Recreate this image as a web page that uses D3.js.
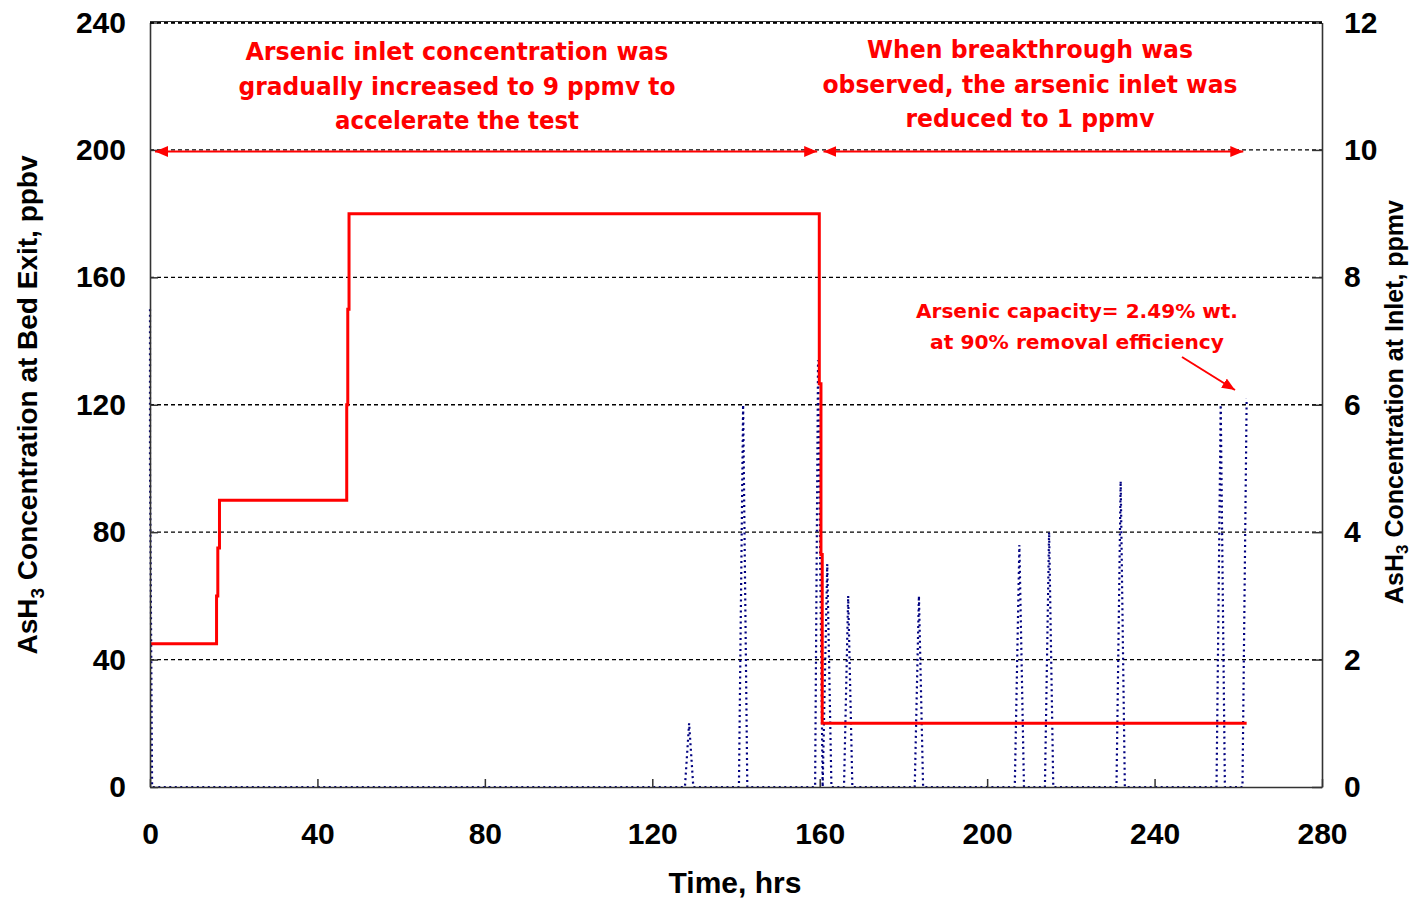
<!DOCTYPE html>
<html>
<head>
<meta charset="utf-8">
<script src="https://cdn.jsdelivr.net/npm/d3@7/dist/d3.min.js"></script>
<style>
  html, body { margin: 0; padding: 0; background: #fff; }
  svg { display: block; font-family: "Liberation Sans", Arial, sans-serif; }
  .tick text { font-weight: bold; font-size: 30px; fill: #000; }
  .red-note { fill: #ff0000; font-weight: bold; font-family: "DejaVu Sans", Verdana, sans-serif; }
</style>
</head>
<body>
<svg id="chart" width="1418" height="898"></svg>
<script>
// Inlet AsH3 concentration (ppmv), step changes over time
const inletTime = [0, 15.9, 16.2, 16.6, 47.0, 47.25, 47.55, 159.9, 160.3, 160.6, 262];
const inletPpmv = [2.25, 3, 3.75, 4.5, 6, 7.5, 9, 6.33, 3.65, 1, 1];

// Bed exit AsH3 concentration (ppbv), dotted spikes
const exitTime = [0, 0, 0.5, 127.8, 128.8, 129.8, 140.7, 141.7, 142.7, 158.9, 159.6, 160.7,
                  161.8, 162.8, 165.8, 166.8, 167.8, 182.7, 183.7, 184.7, 206.6, 207.7, 208.8,
                  213.8, 214.8, 215.8, 230.9, 231.9, 232.9, 254.8, 255.8, 256.8, 261.0, 262.0];
const exitPpbv = [150, 101, 0, 0, 20, 0, 0, 120, 0, 0, 134, 0,
                  70, 0, 0, 60, 0, 0, 60, 0, 0, 76, 0,
                  0, 80, 0, 0, 96, 0, 0, 120, 0, 0, 122];

const xTicks = [0, 40, 80, 120, 160, 200, 240, 280];
const leftTicks = [0, 40, 80, 120, 160, 200, 240];
const rightTicks = [0, 2, 4, 6, 8, 10, 12];

const leftNote = ["Arsenic inlet concentration was", "gradually increased to 9 ppmv to", "accelerate the test"];
const rightNote = ["When breakthrough was", "observed, the arsenic inlet was", "reduced to 1 ppmv"];
const capNote = ["Arsenic capacity= 2.49% wt.", "at 90% removal efficiency"];

const svg = d3.select("#chart");
const margin = { left: 150, right: 1322, top: 22.5, bottom: 787 };

const x = d3.scaleLinear().domain([0, 280]).range([margin.left, margin.right]);
const yL = d3.scaleLinear().domain([0, 240]).range([margin.bottom, margin.top]);
const yR = d3.scaleLinear().domain([0, 12]).range([margin.bottom, margin.top]);

// arrowhead markers
const defs = svg.append("defs");
defs.append("marker")
    .attr("id", "arrow")
    .attr("viewBox", "0 -5 12 10")
    .attr("refX", 12).attr("refY", 0)
    .attr("orient", "auto-start-reverse")
    .attr("markerUnits", "userSpaceOnUse")
    .attr("markerWidth", 13).attr("markerHeight", 11)
    .append("path")
    .attr("d", "M0,-5 L12,0 L0,5 Z")
    .attr("fill", "#ff0000");

// gridlines (dashed)
svg.append("g")
    .selectAll("line")
    .data(leftTicks.filter(d => d > 0))
    .enter().append("line")
    .attr("x1", margin.left).attr("x2", margin.right)
    .attr("y1", d => yL(d)).attr("y2", d => yL(d))
    .attr("stroke", "#000")
    .attr("stroke-width", 1.3)
    .attr("stroke-dasharray", "4,3");

// exit concentration, dotted navy
const exitLine = d3.line()
    .x((d, i) => x(exitTime[i]))
    .y(d => yL(d));
svg.append("path")
    .datum(exitPpbv)
    .attr("d", exitLine)
    .attr("fill", "none")
    .attr("stroke", "#000080")
    .attr("stroke-width", 2.2)
    .attr("stroke-dasharray", "2,3.5");

// inlet concentration, red step line
const inletLine = d3.line()
    .x((d, i) => x(inletTime[i]))
    .y(d => yR(d))
    .curve(d3.curveStepAfter);
svg.append("path")
    .datum(inletPpmv)
    .attr("d", inletLine)
    .attr("fill", "none")
    .attr("stroke", "#ff0000")
    .attr("stroke-width", 3);

// axes
const xAxis = svg.append("g")
    .attr("transform", `translate(0,${margin.bottom})`)
    .call(d3.axisBottom(x).tickValues(xTicks).tickSizeInner(-8).tickSizeOuter(0).tickPadding(42));
const lAxis = svg.append("g")
    .attr("transform", `translate(${margin.left},0)`)
    .call(d3.axisLeft(yL).tickValues(leftTicks).tickSizeInner(-8).tickSizeOuter(0).tickPadding(24));
const rAxis = svg.append("g")
    .attr("transform", `translate(${margin.right},0)`)
    .call(d3.axisRight(yR).tickValues(rightTicks).tickSizeInner(-10).tickSizeOuter(0).tickPadding(22));
[xAxis, lAxis, rAxis].forEach(a => {
    a.select(".domain").attr("stroke", "#333").attr("stroke-width", 1.6);
    a.selectAll(".tick line").attr("stroke", "#333").attr("stroke-width", 1.5);
});
xAxis.selectAll(".tick text").attr("dy", "0.5em");
// top border
svg.append("line")
    .attr("x1", margin.left).attr("x2", margin.right)
    .attr("y1", margin.top - 1).attr("y2", margin.top - 1)
    .attr("stroke", "#333").attr("stroke-width", 1);
svg.append("line")
    .attr("x1", margin.left).attr("x2", margin.right)
    .attr("y1", margin.top + 0.5).attr("y2", margin.top + 0.5)
    .attr("stroke", "#000").attr("stroke-width", 1.3)
    .attr("stroke-dasharray", "4,3");

// axis titles
svg.append("text")
    .attr("x", 735).attr("y", 893)
    .attr("text-anchor", "middle")
    .attr("font-weight", "bold").attr("font-size", 30)
    .text("Time, hrs");

const ylab = svg.append("text")
    .attr("transform", "translate(37,405) rotate(-90)")
    .attr("text-anchor", "middle")
    .attr("font-weight", "bold").attr("font-size", 28);
ylab.append("tspan").text("AsH");
ylab.append("tspan").attr("font-size", 19).attr("dy", 7).text("3");
ylab.append("tspan").attr("dy", -7).text(" Concentration at Bed Exit, ppbv");

const rlab = svg.append("text")
    .attr("transform", "translate(1403,402) rotate(-90)")
    .attr("text-anchor", "middle")
    .attr("font-weight", "bold").attr("font-size", 25);
rlab.append("tspan").text("AsH");
rlab.append("tspan").attr("font-size", 17).attr("dy", 5).text("3");
rlab.append("tspan").attr("dy", -5).text(" Concentration at Inlet, ppmv");

// red notes
function note(lines, cx, y0, step, size, widths) {
    lines.forEach((t, i) => {
        svg.append("text")
            .attr("class", "red-note")
            .attr("x", cx).attr("y", y0 + i * step)
            .attr("text-anchor", "middle")
            .attr("font-size", size)
            .attr("textLength", widths[i])
            .attr("lengthAdjust", "spacingAndGlyphs")
            .text(t);
    });
}
note(leftNote, 457, 60, 34.5, 24, [423, 437, 244]);
note(rightNote, 1030, 58, 34.5, 24, [326, 415, 249]);
note(capNote, 1077, 318, 30.5, 20, [322, 294]);

// double arrows along the 200 line
function arrow(x1, y1, x2, y2, both) {
    const l = svg.append("line")
        .attr("x1", x1).attr("y1", y1).attr("x2", x2).attr("y2", y2)
        .attr("stroke", "#ff0000").attr("stroke-width", 2)
        .attr("marker-end", "url(#arrow)");
    if (both) l.attr("marker-start", "url(#arrow)");
}
arrow(x(1.2), yL(199.5), x(159.4), yL(199.5), true);
arrow(x(160.9), yL(199.5), x(261.2), yL(199.5), true);
arrow(1182, 357, 1235, 390, false);
</script>
</body>
</html>
